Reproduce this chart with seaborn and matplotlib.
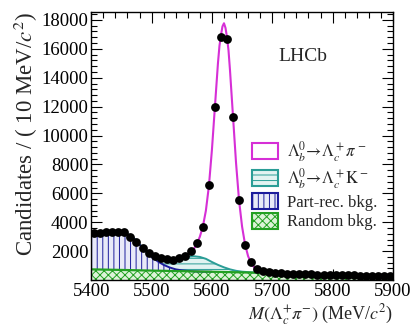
import numpy as np
import pandas as pd
import seaborn as sns
import matplotlib
matplotlib.use('Agg')
import matplotlib.pyplot as plt
from matplotlib.patches import Patch
from matplotlib.ticker import MultipleLocator

# data points (bin centres, 10 MeV bins)
mass = [5405, 5415, 5425, 5435, 5445, 5455, 5465, 5475, 5485, 5495,
        5505, 5515, 5525, 5535, 5545, 5555, 5565, 5575, 5585, 5595,
        5605, 5615, 5625, 5635, 5645, 5655, 5665, 5675, 5685, 5695,
        5705, 5715, 5725, 5735, 5745, 5755, 5765, 5775, 5785, 5795,
        5805, 5815, 5825, 5835, 5845, 5855, 5865, 5875, 5885, 5895]
counts = [3250, 3280, 3320, 3350, 3330, 3300, 3000, 2600, 2200, 1880,
          1680, 1520, 1440, 1420, 1500, 1680, 1980, 2550, 3700, 6600,
          12000, 16800, 16650, 11300, 5550, 2450, 1220, 770, 600, 540,
          490, 470, 450, 430, 420, 400, 390, 380, 370, 360,
          350, 340, 330, 320, 315, 305, 300, 295, 290, 285]

# random background (top of green band)
rnd_x = [5400, 5450, 5500, 5550, 5600, 5650, 5700, 5750, 5800, 5850, 5900]
rnd_y = [740, 700, 655, 615, 575, 530, 480, 420, 360, 315, 280]

# part-reco background, stacked on random
prt_x = [5400, 5410, 5420, 5430, 5440, 5450, 5460, 5470, 5480, 5490, 5500,
         5510, 5520, 5530, 5540, 5550, 5560, 5570, 5580, 5590, 5600]
prt_y = [3250, 3270, 3300, 3320, 3330, 3300, 3180, 2900, 2450, 2000, 1600,
         1300, 1050, 870, 740, 670, 630, 600, 585, 578, 575]

# Lb -> Lc K, stacked on the two above
lck_x = [5460, 5470, 5480, 5490, 5500, 5510, 5520, 5530, 5540, 5550, 5560,
         5570, 5580, 5590, 5600, 5610, 5620, 5630, 5640, 5650, 5660, 5670,
         5680, 5690, 5700]
lck_y = [3190, 2920, 2480, 2060, 1700, 1500, 1420, 1430, 1480, 1560, 1620,
         1650, 1600, 1470, 1250, 1050, 880, 740, 640, 580, 550, 525,
         505, 490, 480]

# total fit (signal on top)
tot_x = [5560, 5565, 5570, 5575, 5580, 5585, 5590, 5595, 5600, 5605, 5610,
         5612.5, 5615, 5617.5, 5620, 5622.5, 5625, 5627.5, 5630, 5635, 5640,
         5645, 5650, 5655, 5660, 5665, 5670, 5675, 5680, 5685, 5690, 5695, 5700]
tot_y = [1750, 1920, 2150, 2500, 3000, 3700, 4800, 6500, 9000, 12000, 15000,
         16200, 16950, 17550, 17770, 17450, 16800, 15900, 14500, 11300, 8100,
         5500, 3700, 2450, 1650, 1180, 880, 720, 620, 560, 520, 500, 480]

sns.set_theme(style='ticks')
plt.rcParams['font.family'] = ['Liberation Serif', 'DejaVu Serif']
plt.rcParams['mathtext.fontset'] = 'stix'
plt.rcParams['hatch.linewidth'] = 0.7

c_sig = '#d62fd6'
c_lck = '#2a9d96'
c_prt = '#1c1c9c'
c_rnd = '#22a022'

fig = plt.figure(figsize=(4.11, 3.33), dpi=100)
ax = fig.add_axes([0.222, 0.159, 0.734, 0.805])

rnd_i = np.interp(prt_x, rnd_x, rnd_y)
rnd_j = np.interp(lck_x, prt_x, prt_y, right=np.nan)
rnd_j = np.where(np.isnan(rnd_j), np.interp(lck_x, rnd_x, rnd_y), rnd_j)

# stacked components
ax.fill_between(lck_x, rnd_j, lck_y, facecolor='#e2f3f1', edgecolor=c_lck,
                hatch='---', linewidth=0, zorder=1)
ax.fill_between(prt_x, rnd_i, prt_y, facecolor='#e8eaf8', edgecolor=c_prt,
                hatch='|||', linewidth=0, zorder=1)
ax.fill_between(rnd_x, 0, rnd_y, facecolor='#dcf3d8', edgecolor=c_rnd,
                hatch='xxxx', linewidth=0, zorder=1)
sns.lineplot(x=lck_x, y=lck_y, color=c_lck, lw=1.4, ax=ax, zorder=2)
sns.lineplot(x=prt_x, y=prt_y, color=c_prt, lw=1.4, ax=ax, zorder=2)
sns.lineplot(x=rnd_x, y=rnd_y, color=c_rnd, lw=1.6, ax=ax, zorder=2)
sns.lineplot(x=tot_x, y=tot_y, color=c_sig, lw=1.5, ax=ax, zorder=3)

df = pd.DataFrame({'m': mass, 'n': counts})
sns.scatterplot(data=df, x='m', y='n', color='black', s=40, edgecolor='black',
                linewidth=0, ax=ax, zorder=4)

ax.set_xlim(5400, 5900)
ax.set_ylim(0, 18550)
ax.xaxis.set_major_locator(MultipleLocator(100))
ax.xaxis.set_minor_locator(MultipleLocator(20))
ax.set_yticks([2000, 4000, 6000, 8000, 10000, 12000, 14000, 16000, 18000])
ax.yaxis.set_minor_locator(MultipleLocator(400))
ax.tick_params(which='both', direction='in', top=True, right=True,
               labelsize=13.5, colors='black', width=0.8)
ax.tick_params(which='major', length=8, pad=2)
ax.tick_params(which='minor', length=4)
for s in ax.spines.values():
    s.set_linewidth(1.0)
    s.set_color('black')

ax.set_xlabel(r'$M(\Lambda_c^{+}\pi^{-})$ (MeV/$c^2$)', fontsize=13,
              loc='right', labelpad=2)
ax.set_ylabel(r'Candidates / ( 10 MeV/$c^2$)', fontsize=16.5,
              loc='top', labelpad=1)

ax.text(0.70, 0.835, 'LHCb', transform=ax.transAxes, fontsize=14,
        ha='center', va='center')

handles = [
    Patch(facecolor='white', edgecolor=c_sig, linewidth=1.5),
    Patch(facecolor='#e2f3f1', edgecolor=c_lck, hatch='---', linewidth=1.5),
    Patch(facecolor='#e8eaf8', edgecolor=c_prt, hatch='|||', linewidth=1.5),
    Patch(facecolor='#dcf3d8', edgecolor=c_rnd, hatch='xxxx', linewidth=1.5),
]
labels = [r'$\Lambda_b^0\!\rightarrow\!\Lambda_c^+\pi^-$',
          r'$\Lambda_b^0\!\rightarrow\!\Lambda_c^+\mathrm{K}^-$',
          'Part-rec. bkg.', 'Random bkg.']
ax.legend(handles, labels, loc='upper left', bbox_to_anchor=(0.51, 0.55),
          frameon=False, fontsize=12, handlelength=1.6, handleheight=1.1,
          labelspacing=0.12, handletextpad=0.5, borderaxespad=0)

fig.savefig('out.png', dpi=100)
